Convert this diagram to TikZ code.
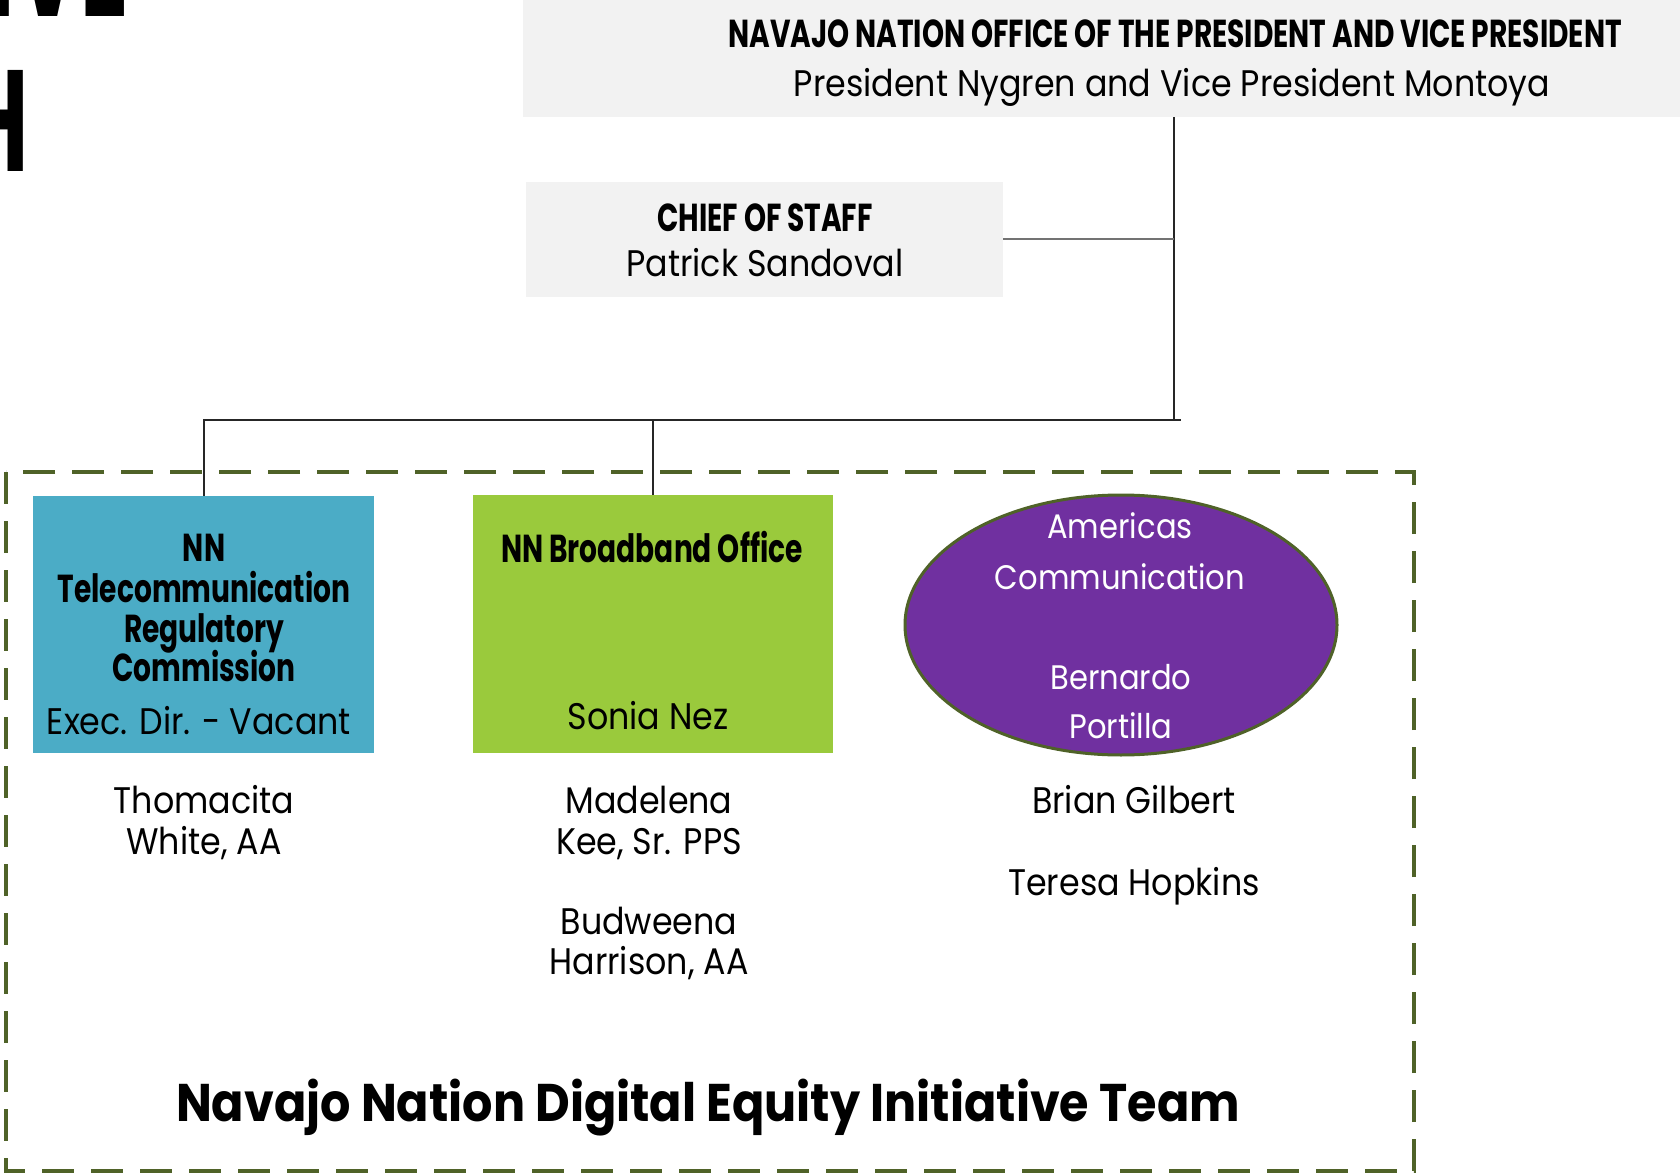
\documentclass[tikz,border=0pt]{standalone}
\usepackage{fontspec}
\setmainfont{Poppins}[FakeStretch=0.9]
\newfontfamily\condfont{Poppins}[FakeStretch=0.72]
\newfontfamily\bigfragfont{Poppins}[FakeStretch=0.62]
\usetikzlibrary{shapes.geometric}
\definecolor{topgray}{HTML}{F2F2F2}
\definecolor{aquabox}{HTML}{4BACC6}
\definecolor{limebox}{HTML}{9ACA3C}
\definecolor{purplebox}{HTML}{7030A0}
\definecolor{olivedk}{HTML}{4F6228}
\newcommand\dgHead{\condfont\bfseries\fontsize{19.5}{21}\selectfont}
\newcommand\dgReg{\fontsize{18.5}{20}\selectfont}
\newcommand\dgEll{\fontsize{17}{19}\selectfont}
\newcommand\dgTitle{\bfseries\fontsize{26.5}{30}\selectfont}
\newcommand\dgBig{\bigfragfont\bfseries\fontsize{72}{80}\selectfont}
\begin{document}
\begin{tikzpicture}[x=0.5pt,y=-0.5pt,
  boxshape/.style={rectangle, draw=none, inner sep=0pt},
  txt/.style={inner sep=0pt, anchor=base, align=center},
  conn/.style={draw=black!85, line width=1pt},
  teamframe/.style={draw=olivedk, line width=1.6pt, dash pattern=on 16pt off 8.5pt}]
\clip (0,0) rectangle (1680,1176);
\fill[white] (0,0) rectangle (1680,1176);

% cropped slide title fragments
\node[inner sep=0pt, anchor=base east] (frag1) at (129,17) {\dgBig IVE};
\node[inner sep=0pt, anchor=base east] (frag2) at (29,172) {\dgBig H};

% boxes
\node[boxshape, fill=topgray, minimum width=651pt, minimum height=63.5pt] (top) at (1174,53.5) {};
\node[boxshape, fill=topgray, minimum width=238.5pt, minimum height=57.5pt] (cos) at (764.5,239.5) {};

% team frame
\draw[teamframe] (6,472) rectangle (1414,1171);

\node[boxshape, fill=aquabox, minimum width=170.5pt, minimum height=128.5pt] (tcrc) at (203.5,624.5) {};
\node[boxshape, fill=limebox, minimum width=180pt, minimum height=129pt] (bbo) at (653,624) {};
\node[ellipse, draw=olivedk, line width=1.5pt, fill=purplebox, inner sep=0pt, minimum width=216pt, minimum height=130pt] (amc) at (1121,625) {};

% connectors
\coordinate (bus) at (1174,420);
\coordinate (busend) at (1181,420);
\draw[conn] (top.south) -- (bus);
\draw[conn, draw=black!55] (cos.east) -- (cos.east -| bus);
\draw[conn] (tcrc.north) -- (tcrc.north |- bus) -- (busend);
\draw[conn] (bbo.north) -- (bbo.north |- bus);

% texts in top boxes
\node[txt] (t1) at (1175,48) {\dgHead NAVAJO NATION OFFICE OF THE PRESIDENT AND VICE PRESIDENT};
\node[txt] (t2) at (1172,97) {\dgReg President Nygren and Vice President Montoya};
\node[txt] (c1) at (765,232) {\dgHead CHIEF OF STAFF};
\node[txt] (c2) at (765,277) {\dgReg Patrick Sandoval};

% blue box
\node[txt] (b1) at (204,561) {\dgHead NN};
\node[txt] (b2) at (204,602) {\dgHead Telecommunication};
\node[txt] (b3) at (204,642) {\dgHead Regulatory};
\node[txt] (b4) at (204,681) {\dgHead Commission};
\node[txt] (b5) at (199,734) {\dgReg Exec. Dir. - Vacant};

% green box
\node[txt] (g1) at (652,562) {\dgHead NN Broadband Office};
\node[txt] (g2) at (648,729) {\dgReg Sonia Nez};

% ellipse
\node[txt, text=white] (e1) at (1120,538) {\dgEll Americas};
\node[txt, text=white] (e2) at (1120,589) {\dgEll Communication};
\node[txt, text=white] (e3) at (1121,689) {\dgEll Bernardo};
\node[txt, text=white] (e4) at (1121,738) {\dgEll Portilla};

% staff names
\node[txt] (n1) at (204,813) {\dgReg Thomacita};
\node[txt] (n2) at (204,854) {\dgReg White, AA};
\node[txt] (n3) at (649,813) {\dgReg Madelena};
\node[txt] (n4) at (649,854) {\dgReg Kee, Sr. PPS};
\node[txt] (n5) at (649,934) {\dgReg Budweena};
\node[txt] (n6) at (649,974) {\dgReg Harrison, AA};
\node[txt] (n7) at (1134,813) {\dgReg Brian Gilbert};
\node[txt] (n8) at (1134,895) {\dgReg Teresa Hopkins};

% team title
\node[txt] (team) at (708,1121) {\dgTitle Navajo Nation Digital Equity Initiative Team};
\end{tikzpicture}
\end{document}
